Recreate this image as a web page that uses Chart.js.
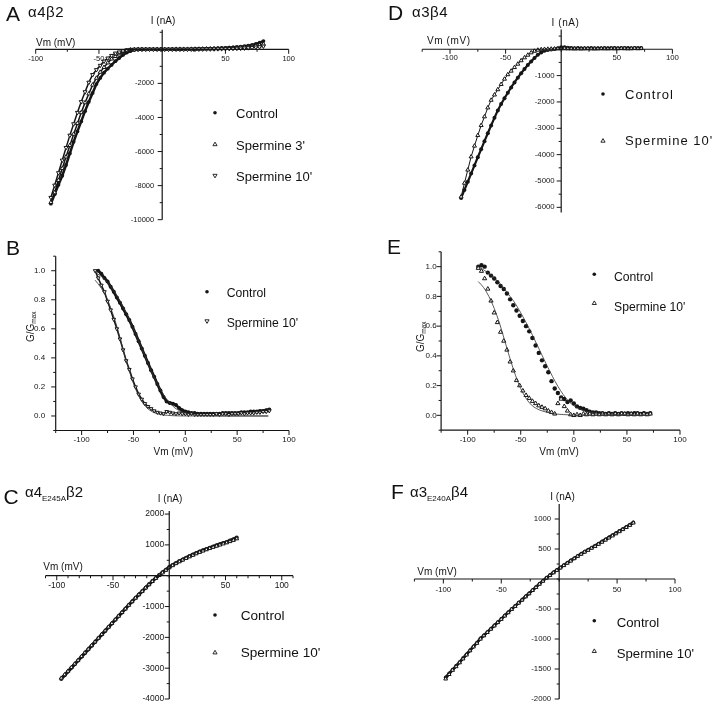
<!DOCTYPE html>
<html>
<head>
<meta charset="utf-8">
<script src="https://cdn.jsdelivr.net/npm/chart.js@4.4.1/dist/chart.umd.min.js"></script>
<style>
body { margin: 0; background: #fff; font-family: "Liberation Sans", Arial, sans-serif; }
#fig { position: relative; width: 720px; height: 704px; overflow: hidden; background: #fff; }
#fig canvas { position: absolute; left: 0; top: 0; }
.t { position: absolute; white-space: nowrap; line-height: 1; color: #111; }
.sub { font-size: 8px; position: relative; top: 4px; }
</style>
</head>
<body>
<div id="fig">
<canvas id="cA" width="720" height="704"></canvas>
<canvas id="cB" width="720" height="704"></canvas>
<canvas id="cC" width="720" height="704"></canvas>
<canvas id="cD" width="720" height="704"></canvas>
<canvas id="cE" width="720" height="704"></canvas>
<canvas id="cF" width="720" height="704"></canvas>

<!-- panel letters and receptor names -->
<div class="t" style="left:6px;top:3px;font-size:21px">A</div>
<div class="t" style="left:28px;top:3.6px;font-size:15px;letter-spacing:0.5px">α4β2</div>
<div class="t" style="left:388px;top:2.2px;font-size:21px">D</div>
<div class="t" style="left:412px;top:3.8px;font-size:15px;letter-spacing:0.5px">α3β4</div>
<div class="t" style="left:6px;top:236.7px;font-size:21px">B</div>
<div class="t" style="left:387px;top:236.2px;font-size:21px">E</div>
<div class="t" style="left:3.5px;top:485.5px;font-size:21px">C</div>
<div class="t" style="left:25px;top:484px;font-size:15px">α4<span class="sub">E245A</span>β2</div>
<div class="t" style="left:391px;top:480.5px;font-size:21px">F</div>
<div class="t" style="left:410px;top:484px;font-size:15px">α3<span class="sub">E240A</span>β4</div>

<!-- legends -->
<div class="t" style="left:236px;top:106.9px;font-size:13px">Control</div>
<div class="t" style="left:236px;top:138.6px;font-size:13px">Spermine 3'</div>
<div class="t" style="left:236px;top:169.6px;font-size:13px">Spermine 10'</div>
<div class="t" style="left:625px;top:87.6px;font-size:13px;letter-spacing:1px">Control</div>
<div class="t" style="left:625px;top:134.3px;font-size:13px;letter-spacing:1px">Spermine 10'</div>
<div class="t" style="left:226.7px;top:287.3px;font-size:12.2px">Control</div>
<div class="t" style="left:226.7px;top:317.3px;font-size:12.2px">Spermine 10'</div>
<div class="t" style="left:614px;top:270.7px;font-size:12.2px">Control</div>
<div class="t" style="left:614px;top:300.7px;font-size:12.2px">Spermine 10'</div>
<div class="t" style="left:240.7px;top:609.4px;font-size:13.6px">Control</div>
<div class="t" style="left:240.7px;top:646.1px;font-size:13.6px">Spermine 10'</div>
<div class="t" style="left:616.7px;top:615.9px;font-size:13.2px">Control</div>
<div class="t" style="left:616.7px;top:646.9px;font-size:13.2px">Spermine 10'</div>
</div>

<script>
// ---- A: a4b2 I-V (mV, nA)
var voltsA = [-88,-85,-82,-79,-76,-73,-70,-67,-64,-61,-58,-55,-52,-49,-46,-43,-40,-37,-34,-31,-28,-25,-22,-19,-16,-13,-10,-7,-4,-1,2,5,8,11,14,17,20,23,26,29,32,35,38,41,44,47,50,53,56,59,62,65,68,71,74,77,80];
var controlA = [-9060,-8500,-7950,-7420,-6790,-6110,-5430,-4820,-4230,-3630,-3080,-2560,-2040,-1680,-1370,-1140,-920,-700,-510,-330,-195,-105,-35,-15,-5,0,0,0,0,0,0,0,5,5,5,5,10,15,20,25,30,40,45,55,65,75,85,100,115,135,155,180,215,260,320,390,480];
var sperm3A = [-8980,-8410,-7690,-6990,-6310,-5640,-4980,-4350,-3710,-3130,-2610,-2090,-1690,-1340,-1060,-790,-565,-415,-265,-165,-75,-30,-10,0,0,0,0,0,0,0,0,0,0,5,5,5,5,10,12,15,20,25,30,35,40,50,55,65,75,85,100,115,135,160,195,240,300];
var sperm10A = [-8700,-7980,-7250,-6510,-5770,-5050,-4380,-3710,-3080,-2500,-1940,-1490,-1200,-950,-700,-520,-370,-230,-165,-100,-40,-15,-5,0,0,0,0,0,0,0,0,0,0,0,0,0,0,5,5,10,10,15,15,20,25,30,35,40,45,55,60,70,85,100,120,145,180];

// ---- D: a3b4 I-V
var voltsD = [-90,-87,-84,-81,-78,-75,-72,-69,-66,-63,-60,-57,-54,-51,-48,-45,-42,-39,-36,-33,-30,-27,-24,-21,-18,-15,-12,-9,-6,-3,0,3,6,9,12,15,18,21,24,27,30,33,36,39,42,45,48,51,54,57,60,63,66,69,72];
var controlD = [-5650,-5340,-5030,-4720,-4410,-4100,-3800,-3490,-3190,-2890,-2600,-2320,-2080,-1860,-1650,-1450,-1260,-1080,-910,-750,-600,-460,-330,-210,-120,-60,-25,-5,10,40,80,80,60,50,40,45,40,35,40,45,40,35,40,45,40,45,50,40,45,50,45,40,50,45,50];
var sperm10D = [-5600,-5080,-4580,-4080,-3670,-3270,-2890,-2560,-2220,-1930,-1730,-1530,-1330,-1130,-960,-825,-690,-560,-430,-320,-220,-130,-70,-30,-10,0,5,10,15,20,25,25,20,20,15,20,15,20,25,20,15,20,25,20,20,25,20,25,30,25,20,25,30,25,30];

// ---- B: a4b2 G/Gmax
var voltsB = [-87,-84,-81,-78,-75,-72,-69,-66,-63,-60,-57,-54,-51,-48,-45,-42,-39,-36,-33,-30,-27,-24,-21,-18,-15,-12,-9,-6,-3,0,3,6,9,12,15,18,21,24,27,30,33,36,39,42,45,48,51,54,57,60,63,66,69,72,75,78,81];
var controlB = [null,1.0,0.98,0.95,0.925,0.89,0.855,0.815,0.78,0.74,0.7,0.66,0.615,0.565,0.515,0.465,0.415,0.365,0.315,0.27,0.22,0.175,0.13,0.1,0.09,0.085,0.075,0.055,0.04,0.03,0.025,0.02,0.02,0.015,0.015,0.015,0.015,0.015,0.015,0.015,0.015,0.02,0.02,0.02,0.02,0.02,0.02,0.025,0.025,0.025,0.03,0.03,0.03,0.035,0.035,0.04,0.045];
var sperm10B = [1.0,0.95,0.9,0.855,0.79,0.73,0.665,0.6,0.53,0.455,0.38,0.32,0.255,0.2,0.15,0.115,0.085,0.065,0.05,0.035,0.025,0.02,0.015,0.03,0.025,0.02,0.015,0.02,0.015,0.015,0.01,0.015,0.01,0.01,0.01,0.01,0.01,0.01,0.01,0.015,0.01,0.015,0.015,0.01,0.015,0.015,0.015,0.02,0.015,0.02,0.02,0.02,0.025,0.025,0.03,0.03,0.035];
var fitVoltsB1 = [-85,-80,-75,-70,-65,-60,-55,-50,-45,-40,-35,-30,-25,-20,-15,-10,-5,0,10,20,40,80];
var fitControlB = [0.98,0.955,0.92,0.87,0.815,0.75,0.68,0.6,0.515,0.43,0.345,0.265,0.195,0.135,0.09,0.055,0.035,0.02,0.008,0.003,0,0];
var fitVoltsB2 = [-87,-82,-77,-72,-67,-62,-57,-52,-47,-42,-37,-32,-27,-22,-12,0,20,80];
var fitSpermB = [0.935,0.89,0.83,0.745,0.64,0.51,0.38,0.265,0.17,0.1,0.055,0.03,0.015,0.008,0.002,0,0,0];

// ---- E: a3b4 G/Gmax
var voltsE = [-90,-87,-84,-81,-78,-75,-72,-69,-66,-63,-60,-57,-54,-51,-48,-45,-42,-39,-36,-33,-30,-27,-24,-21,-18,-15,-12,-9,-6,-3,0,3,6,9,12,15,18,21,24,27,30,33,36,39,42,45,48,51,54,57,60,63,66,69,72];
var controlE = [1.0,1.01,1.0,0.96,0.94,0.92,0.895,0.87,0.85,0.82,0.78,0.74,0.705,0.67,0.635,0.6,0.565,0.52,0.47,0.42,0.37,0.33,0.29,0.23,0.18,0.15,0.12,0.11,0.09,0.1,0.08,0.06,0.05,0.045,0.035,0.025,0.02,0.02,0.015,0.015,0.01,0.015,0.01,0.015,0.01,0.015,0.01,0.015,0.01,0.015,0.015,0.01,0.015,0.01,0.015];
var sperm10E = [0.99,0.97,0.92,0.85,0.77,0.69,0.625,0.56,0.5,0.44,0.36,0.3,0.235,0.2,0.165,0.135,0.115,0.095,0.08,0.065,0.055,0.045,0.03,0.02,0.01,0.08,0.11,0.06,0.03,0.005,0.0,0.005,0.0,0.01,0.005,0.01,0.005,0.01,0.005,0.01,0.005,0.01,0.005,0.01,0.005,0.01,0.01,0.005,0.01,0.005,0.01,0.005,0.01,0.005,0.01];
var fitVoltsE1 = [-90,-80,-70,-60,-55,-50,-45,-40,-35,-30,-25,-20,-15,-10,-5,0,5,10,20,30,50,72];
var fitControlE = [1.0,0.955,0.89,0.8,0.75,0.69,0.625,0.555,0.48,0.405,0.33,0.26,0.195,0.14,0.095,0.065,0.045,0.03,0.015,0.008,0.003,0];
var fitVoltsE2 = [-90,-85,-80,-75,-70,-65,-60,-55,-50,-45,-40,-35,-30,-25,-20,-10,0,20,72];
var fitSpermE = [0.9,0.86,0.8,0.72,0.62,0.5,0.38,0.27,0.18,0.115,0.07,0.045,0.03,0.02,0.012,0.005,0.002,0,0];

// ---- C: a4(E245A)b2 I-V
var voltsC = [-96,-93,-90,-87,-84,-81,-78,-75,-72,-69,-66,-63,-60,-57,-54,-51,-48,-45,-42,-39,-36,-33,-30,-27,-24,-21,-18,-15,-12,-9,-6,-3,0,3,6,9,12,15,18,21,24,27,30,33,36,39,42,45,48,51,54,57,60];
var controlC = [-3350,-3230,-3110,-2990,-2870,-2750,-2630,-2510,-2390,-2270,-2150,-2030,-1910,-1790,-1670,-1550,-1430,-1310,-1190,-1070,-950,-835,-720,-610,-500,-390,-280,-175,-75,20,110,195,280,350,415,475,530,585,640,690,740,785,830,870,910,950,985,1025,1060,1095,1140,1185,1240];
var sperm10C = [-3320,-3210,-3095,-2975,-2860,-2740,-2620,-2500,-2380,-2265,-2145,-2025,-1905,-1785,-1665,-1545,-1425,-1310,-1190,-1075,-955,-840,-725,-615,-505,-395,-290,-185,-85,10,95,180,260,330,395,455,510,565,615,665,715,760,805,845,885,925,960,1000,1035,1070,1110,1150,1200];

// ---- F: a3(E240A)b4 I-V
var voltsF = [-98,-95,-92,-89,-86,-83,-80,-77,-74,-71,-68,-65,-62,-59,-56,-53,-50,-47,-44,-41,-38,-35,-32,-29,-26,-23,-20,-17,-14,-11,-8,-5,-2,1,4,7,10,13,16,19,22,25,28,31,34,37,40,43,46,49,52,55,58,61,64];
var controlF = [-1640,-1575,-1510,-1450,-1385,-1320,-1255,-1190,-1125,-1060,-990,-940,-885,-830,-775,-720,-665,-610,-555,-500,-450,-395,-345,-290,-240,-185,-135,-80,-30,20,65,110,150,190,230,270,310,345,385,420,455,490,520,555,590,625,660,695,730,765,800,835,870,905,945];
var sperm10F = [-1665,-1590,-1520,-1460,-1395,-1330,-1265,-1195,-1130,-1070,-1000,-945,-890,-835,-780,-725,-670,-615,-560,-505,-455,-400,-350,-295,-245,-190,-140,-85,-35,15,60,105,145,185,225,265,300,340,380,415,450,480,515,545,580,615,650,685,720,755,790,825,860,895,935];

// tick labels
var xLabelsIV = [-100, -50, 50, 100];
var xLabelsG = [-100, -50, 0, 50, 100];
var yLabelsA = [-10000, -8000, -6000, -4000, -2000];
var yLabelsD = [-6000, -5000, -4000, -3000, -2000, -1000];
var yLabelsC = [-4000, -3000, -2000, -1000, 1000, 2000];
var yLabelsF = [-2000, -1500, -1000, -500, 500, 1000];
var yLabelsG = [0, 0.2, 0.4, 0.6, 0.8, 1.0];

var INK = '#151515';
var FONT = '"Liberation Sans", Arial, sans-serif';

function pts(xs, ys) {
    return xs.map(function (x, i) { return { x: x, y: ys[i] }; });
}

function dots(xs, ys, r, line) {
    return {
        data: pts(xs, ys), pointStyle: 'circle', pointRadius: r,
        pointBackgroundColor: INK, pointBorderColor: INK, pointBorderWidth: 0,
        showLine: line > 0, borderColor: INK, borderWidth: line
    };
}

function tris(xs, ys, r, rot, line) {
    return {
        data: pts(xs, ys), pointStyle: 'triangle', pointRadius: r, pointRotation: rot,
        pointBackgroundColor: '#fff', pointBorderColor: INK, pointBorderWidth: 1,
        showLine: line > 0, borderColor: INK, borderWidth: line
    };
}

function fit(xs, ys) {
    return {
        data: pts(xs, ys), showLine: true, pointRadius: 0,
        borderColor: '#333', borderWidth: 0.8, cubicInterpolationMode: 'monotone'
    };
}

function marker(ctx, kind, x, y) {
    ctx.beginPath();
    if (kind === 'dot') {
        ctx.arc(x, y, 1.8, 0, Math.PI * 2);
        ctx.fill();
        return;
    }
    var r = 2.4, s = kind === 'down' ? -1 : 1;
    ctx.moveTo(x, y - s * r);
    ctx.lineTo(x + r * 0.87, y + s * r * 0.5);
    ctx.lineTo(x - r * 0.87, y + s * r * 0.5);
    ctx.closePath();
    ctx.stroke();
}

// draws the crossing / boxed axes, ticks, labels and legend markers
var figAxes = {
    id: 'figAxes',
    afterDatasetsDraw: function (chart, args, o) {
        var ctx = chart.ctx, xs = chart.scales.x, ys = chart.scales.y;
        var px = function (v) { return xs.getPixelForValue(v); };
        var py = function (v) { return ys.getPixelForValue(v); };
        var ox = o.cross ? px(0) : px(xs.min);
        var oy = o.cross ? py(0) : py(ys.min);
        var isMajor = function (list, v) { return list.some(function (l) { return Math.abs(l - v) < 1e-6; }); };

        ctx.save();
        ctx.strokeStyle = INK;
        ctx.fillStyle = INK;
        ctx.lineWidth = 1.2;
        ctx.beginPath();
        ctx.moveTo(px(xs.min), oy); ctx.lineTo(px(xs.max), oy);
        ctx.moveTo(ox, py(ys.min)); ctx.lineTo(ox, py(ys.max));
        ctx.stroke();

        // ticks
        ctx.lineWidth = 1;
        ctx.beginPath();
        var n = Math.round((o.minorX[1] - o.minorX[0]) / o.minorX[2]);
        for (var i = 0; i <= n; i++) {
            var v = o.minorX[0] + i * o.minorX[2];
            var len = isMajor(o.labelsX, v) ? 4.5 : 2.5;
            ctx.moveTo(px(v), oy); ctx.lineTo(px(v), oy + len);
        }
        n = Math.round((o.minorY[1] - o.minorY[0]) / o.minorY[2]);
        for (i = 0; i <= n; i++) {
            v = Math.round((o.minorY[0] + i * o.minorY[2]) * 1000) / 1000;
            len = isMajor(o.labelsY, v) ? 4.5 : 2.5;
            ctx.moveTo(ox, py(v)); ctx.lineTo(ox - len, py(v));
        }
        ctx.stroke();

        // tick labels
        ctx.font = o.font + 'px ' + FONT;
        ctx.textBaseline = 'middle';
        ctx.textAlign = 'center';
        o.labelsX.forEach(function (v) { ctx.fillText(String(v), px(v), oy + o.xGap); });
        ctx.textAlign = 'right';
        o.labelsY.forEach(function (v) {
            ctx.fillText(o.digits ? v.toFixed(o.digits) : String(v), ox - o.yGap, py(v));
        });

        // axis titles
        ctx.font = '10px ' + FONT;
        ctx.textBaseline = 'alphabetic';
        if (o.spacing && 'letterSpacing' in ctx) ctx.letterSpacing = o.spacing;
        if (o.iTitle) {
            ctx.textAlign = 'center';
            ctx.fillText('I (nA)', o.iTitle[0], o.iTitle[1]);
            ctx.textAlign = 'left';
            ctx.fillText('Vm (mV)', o.vTitle[0], o.vTitle[1]);
        }
        if (o.xTitle) {
            ctx.textAlign = 'center';
            ctx.fillText('Vm (mV)', o.xTitle[0], o.xTitle[1]);
            // rotated G/Gmax
            ctx.save();
            ctx.translate(o.gTitle[0], o.gTitle[1]);
            ctx.rotate(-Math.PI / 2);
            ctx.textAlign = 'left';
            var wg = ctx.measureText('G/G').width;
            ctx.font = '6.5px ' + FONT;
            var wm = ctx.measureText('max').width;
            var x0 = -(wg + wm) / 2;
            ctx.fillText('max', x0 + wg, 6);
            ctx.font = '10px ' + FONT;
            ctx.fillText('G/G', x0, 3.5);
            ctx.restore();
        }
        if ('letterSpacing' in ctx) ctx.letterSpacing = '0px';

        // legend markers
        ctx.lineWidth = 0.9;
        o.legend.forEach(function (m) { marker(ctx, m[0], m[1], m[2]); });
        ctx.restore();
    }
};

function panel(id, area, xr, yr, sets, axes) {
    return new Chart(document.getElementById(id), {
        type: 'scatter',
        data: { datasets: sets },
        options: {
            responsive: false,
            animation: false,
            events: [],
            layout: { padding: { left: area[0], top: area[1], right: 720 - area[2], bottom: 704 - area[3] } },
            scales: {
                x: { type: 'linear', display: false, min: xr[0], max: xr[1] },
                y: { type: 'linear', display: false, min: yr[0], max: yr[1] }
            },
            plugins: { legend: { display: false }, tooltip: { enabled: false }, figAxes: axes }
        },
        plugins: [figAxes]
    });
}

// A
panel('cA', [35.7, 29.7, 288.7, 219.7], [-100, 100], [-10000, 1150], [
    tris(voltsA, sperm10A, 2.3, 180, 1.5),
    tris(voltsA, sperm3A, 2.3, 0, 1.5),
    dots(voltsA, controlA, 1.9, 2.5)
], {
    cross: true, minorX: [-100, 100, 25], labelsX: xLabelsIV, minorY: [-10000, 1000, 1000], labelsY: yLabelsA,
    xGap: 10, yGap: 8, font: 7.5, iTitle: [163, 23.6], vTitle: [36, 46.3],
    legend: [['dot', 215, 112.8], ['up', 215, 144.5], ['down', 215, 175.5]]
});

// D
panel('cD', [422.2, 29.5, 672.4, 212.6], [-125, 100], [-6200, 750], [
    tris(voltsD, sperm10D, 2.3, 0, 1),
    dots(voltsD, controlD, 2, 2.2)
], {
    cross: true, minorX: [-125, 100, 25], labelsX: xLabelsIV, minorY: [-6000, 500, 500], labelsY: yLabelsD,
    xGap: 9, yGap: 6.5, font: 7.8, iTitle: [565.5, 26.3], vTitle: [427, 44.3], spacing: '0.6px',
    legend: [['dot', 603, 94], ['up', 603, 141]]
});

// B
panel('cB', [55.7, 256.2, 289, 430.5], [-125, 100], [-0.1, 1.1], [
    fit(fitVoltsB1, fitControlB),
    fit(fitVoltsB2, fitSpermB),
    tris(voltsB, sperm10B, 2.1, 180, 1.6),
    dots(voltsB, controlB, 2, 2.8)
], {
    cross: false, minorX: [-125, 100, 25], labelsX: xLabelsG, minorY: [-0.1, 1.1, 0.1], labelsY: yLabelsG, digits: 1,
    xGap: 9.7, yGap: 10.6, font: 8, xTitle: [173.3, 455.3], gTitle: [30, 326.7],
    legend: [['dot', 207, 291.7], ['down', 207, 321]]
});

// E
panel('cE', [441.1, 251.8, 680, 430.2], [-125, 100], [-0.1, 1.1], [
    fit(fitVoltsE1, fitControlE),
    fit(fitVoltsE2, fitSpermE),
    tris(voltsE, sperm10E, 2.4, 0, 0),
    dots(voltsE, controlE, 2.2, 0)
], {
    cross: false, minorX: [-125, 100, 25], labelsX: xLabelsG, minorY: [-0.1, 1.1, 0.1], labelsY: yLabelsG, digits: 1,
    xGap: 9.7, yGap: 4.4, font: 8, xTitle: [559, 455.3], gTitle: [420, 336.7],
    legend: [['dot', 594.3, 274.3], ['up', 594.3, 303.3]]
});

// C
panel('cC', [45.5, 511, 293, 699], [-110, 110], [-4000, 2100], [
    tris(voltsC, sperm10C, 2.2, 0, 2.2),
    dots(voltsC, controlC, 2, 3.2)
], {
    cross: true, minorX: [-110, 110, 10], labelsX: xLabelsIV, minorY: [-4000, 2000, 500], labelsY: yLabelsC,
    xGap: 10, yGap: 5, font: 8.5, iTitle: [170, 502], vTitle: [43.3, 570.3],
    legend: [['dot', 215, 615], ['up', 215, 652.7]]
});

// F
panel('cF', [414.4, 504, 675, 699], [-125, 100], [-2000, 1250], [
    tris(voltsF, sperm10F, 2.2, 0, 1.8),
    dots(voltsF, controlF, 1.9, 2.8)
], {
    cross: true, minorX: [-125, 100, 25], labelsX: xLabelsIV, minorY: [-2000, 1000, 250], labelsY: yLabelsF,
    xGap: 11, yGap: 8, font: 7.8, iTitle: [562.5, 500.3], vTitle: [417.3, 575.3],
    legend: [['dot', 594.3, 620.7], ['up', 594.3, 651.3]]
});
</script>
</body>
</html>
